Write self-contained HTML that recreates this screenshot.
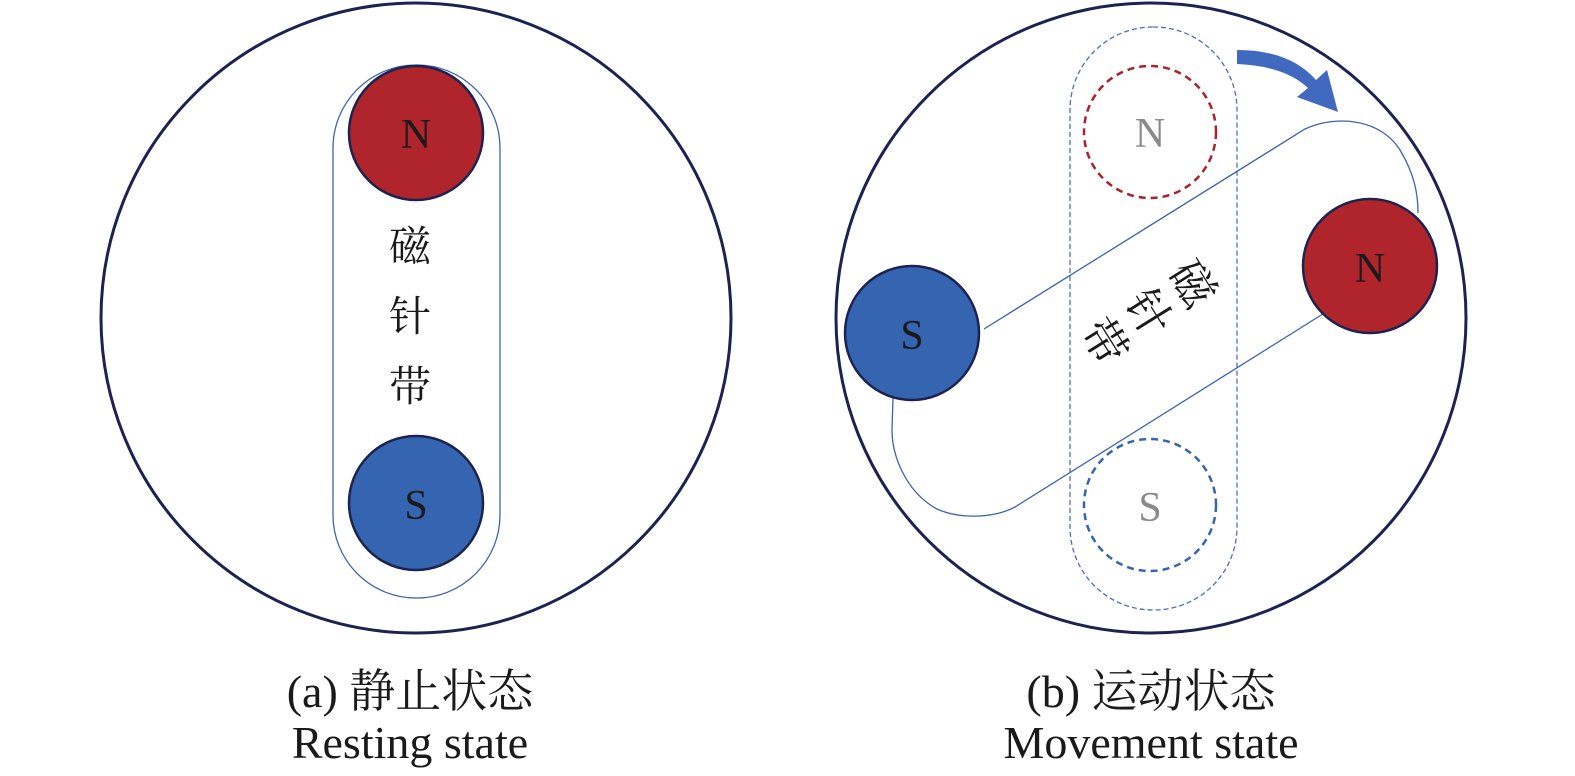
<!DOCTYPE html>
<html><head><meta charset="utf-8"><style>
html,body{margin:0;padding:0;background:#fff;}
svg{display:block;}
</style></head><body>
<svg width="1575" height="776" viewBox="0 0 1575 776" xmlns="http://www.w3.org/2000/svg">
<g font-family="Liberation Serif, 'Noto Serif CJK SC', serif">
<!-- Left -->
<circle cx="416" cy="318" r="315" fill="#fff" stroke="#1c2350" stroke-width="3"/>
<rect x="333" y="65" width="167" height="533" rx="83" fill="none" stroke="#3d62b0" stroke-width="1.3"/>
<circle cx="416" cy="133" r="67" fill="#b0242b" stroke="#1c2350" stroke-width="2.5"/>
<text x="416" y="148" font-size="42" text-anchor="middle" fill="#1a1a1a">N</text>
<circle cx="416" cy="503" r="67" fill="#3565b0" stroke="#1c2350" stroke-width="2.5"/>
<text x="416" y="519" font-size="42" text-anchor="middle" fill="#1a1a1a">S</text>
<g font-size="42" text-anchor="middle" fill="#1a1a1a" font-family="'Noto Serif CJK SC', serif">
<text x="410" y="261">磁</text>
<text x="410" y="331">针</text>
<text x="410" y="401">带</text>
</g>
<text x="410" y="707" font-size="46" text-anchor="middle" fill="#1a1a1a">(a) 静止状态</text>
<text x="410" y="758" font-size="46" text-anchor="middle" fill="#1a1a1a">Resting state</text>

<!-- Right -->
<circle cx="1151" cy="318" r="315" fill="#fff" stroke="#1c2350" stroke-width="3"/>
<rect x="1070" y="27" width="167" height="583" rx="83" fill="none" stroke="#4a6fc0" stroke-width="1.3" stroke-dasharray="5,3"/>
<circle cx="1150" cy="132" r="66" fill="none" stroke="#a8232b" stroke-width="2.5" stroke-dasharray="7,5"/>
<text x="1150" y="147" font-size="42" text-anchor="middle" fill="#8a8a8a">N</text>
<circle cx="1150" cy="505" r="66" fill="none" stroke="#3565b0" stroke-width="2.5" stroke-dasharray="7,5"/>
<text x="1150" y="521" font-size="42" text-anchor="middle" fill="#8a8a8a">S</text>
<path d="M984,329 L1305,129 C1335,115 1380,118 1400,150 C1415,175 1418,195 1418,213" fill="none" stroke="#3d62b0" stroke-width="1.3"/>
<path d="M1326,312 L1015,507 C990,520 955,518 935,508 C905,490 892,455 892,430 L893,398" fill="none" stroke="#3d62b0" stroke-width="1.3"/>
<circle cx="1370" cy="266" r="67" fill="#b0242b" stroke="#1c2350" stroke-width="2.5"/>
<text x="1370" y="282" font-size="42" text-anchor="middle" fill="#1a1a1a">N</text>
<circle cx="912" cy="333" r="67" fill="#3565b0" stroke="#1c2350" stroke-width="2.5"/>
<text x="912" y="349" font-size="42" text-anchor="middle" fill="#1a1a1a">S</text>
<path d="M1237,50 Q1290,50 1316,80 L1327,70 L1338,112 L1297,97 L1308,88 Q1285,66 1237,64 Z" fill="#4169c0"/>
<g font-size="45" text-anchor="middle" fill="#1a1a1a" font-family="'Noto Serif CJK SC', serif">
<text transform="translate(1192,284) rotate(58)" x="0" y="15">磁</text>
<text transform="translate(1148,313) rotate(58)" x="0" y="15">针</text>
<text transform="translate(1104,342) rotate(58)" x="0" y="15">带</text>
</g>
<text x="1151" y="707" font-size="46" text-anchor="middle" fill="#1a1a1a">(b) 运动状态</text>
<text x="1151" y="758" font-size="46" text-anchor="middle" fill="#1a1a1a">Movement state</text>
</g>
</svg>
</body></html>
